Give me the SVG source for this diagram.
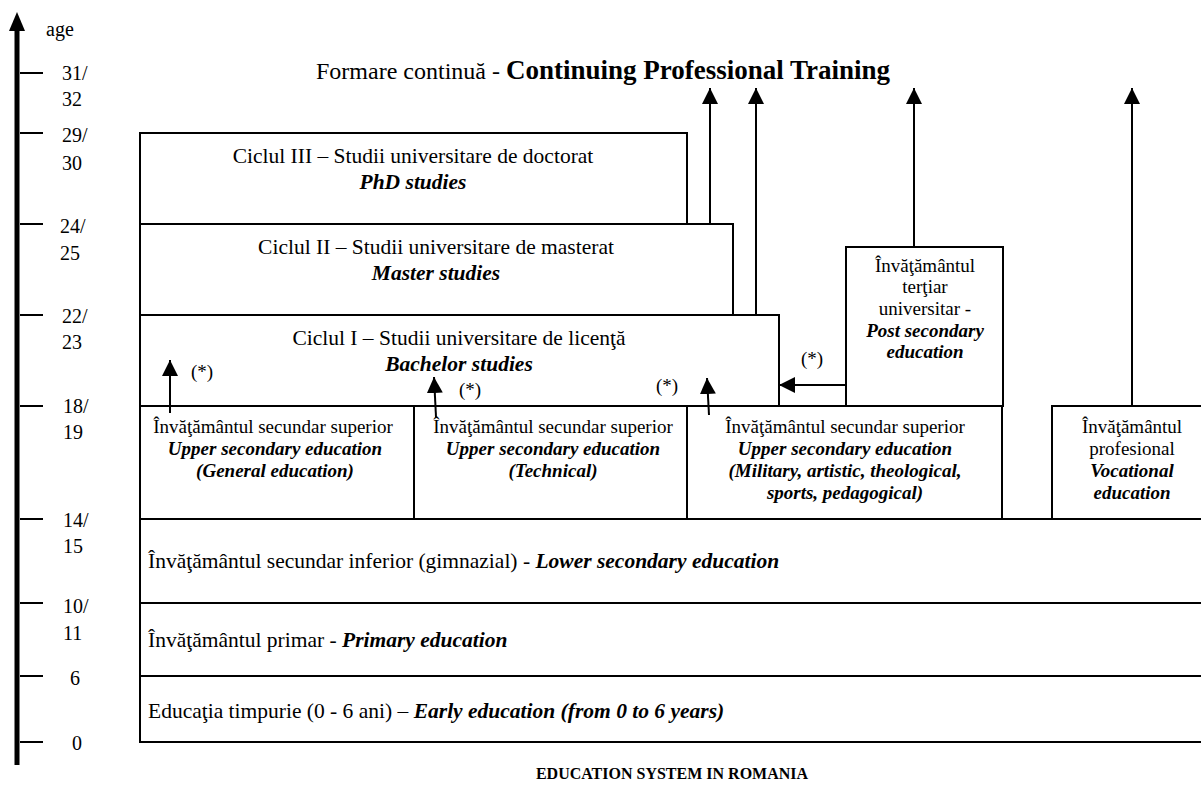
<svg xmlns="http://www.w3.org/2000/svg" width="1201" height="801" viewBox="0 0 1201 801">
<defs>
<marker id="ah" markerUnits="userSpaceOnUse" markerWidth="16" markerHeight="16" refX="16" refY="8" orient="auto" viewBox="0 0 16 16">
<path d="M0,0 L16,8 L0,16 z" fill="#000"/>
</marker>
<style>
text{font-family:"Liberation Serif","Times New Roman",serif;fill:#000}
.box{fill:#fff;stroke:#000;stroke-width:2}
.lbl{font-size:21.5px}
.sm{font-size:19px}
.bi{font-weight:bold;font-style:italic}
.b{font-weight:bold}
.mid{text-anchor:middle}
.ax{font-size:20px}
.conn line{stroke:#000;stroke-width:2;marker-end:url(#ah)}
.tick{stroke:#000;stroke-width:2}
.st{font-size:19px}
</style>
</defs>
<rect width="1201" height="801" fill="#fff"/>

<g id="axis">
<line x1="17" y1="765" x2="17" y2="26" stroke="#000" stroke-width="5"/>
<polygon points="17,12 9,31 25,31" fill="#000"/>
<text x="46" y="36" class="ax">age</text>
<line class="tick" x1="20" y1="73" x2="43" y2="73"/>
<line class="tick" x1="20" y1="133" x2="43" y2="133"/>
<line class="tick" x1="20" y1="224" x2="43" y2="224"/>
<line class="tick" x1="20" y1="315" x2="43" y2="315"/>
<line class="tick" x1="20" y1="406" x2="43" y2="406"/>
<line class="tick" x1="20" y1="519" x2="43" y2="519"/>
<line class="tick" x1="20" y1="603" x2="43" y2="603"/>
<line class="tick" x1="20" y1="676" x2="43" y2="676"/>
<line class="tick" x1="20" y1="742" x2="43" y2="742"/>
<text x="62" y="80" class="ax">31/</text><text x="62" y="106" class="ax">32</text>
<text x="62" y="142" class="ax">29/</text><text x="62" y="170" class="ax">30</text>
<text x="60" y="233" class="ax">24/</text><text x="60" y="260" class="ax">25</text>
<text x="62" y="323" class="ax">22/</text><text x="62" y="349" class="ax">23</text>
<text x="63" y="413" class="ax">18/</text><text x="63" y="439" class="ax">19</text>
<text x="63" y="527" class="ax">14/</text><text x="63" y="553" class="ax">15</text>
<text x="63" y="613" class="ax">10/</text><text x="63" y="640" class="ax">11</text>
<text x="70" y="685" class="ax">6</text>
<text x="72" y="750" class="ax">0</text>
</g>

<text x="316" y="79" style="font-size:24px">Formare continuă - <tspan class="b" style="font-size:27px">Continuing Professional Training</tspan></text>

<g id="phd">
<rect class="box" x="140" y="133" width="547" height="91"/>
<text x="413" y="163" class="lbl mid">Ciclul III – Studii universitare de doctorat</text>
<text x="413" y="189" class="lbl mid bi">PhD studies</text>
</g>
<g id="master">
<rect class="box" x="140" y="224" width="593" height="91"/>
<text x="436" y="254" class="lbl mid">Ciclul II – Studii universitare de masterat</text>
<text x="436" y="280" class="lbl mid bi">Master studies</text>
</g>
<g id="bachelor">
<rect class="box" x="140" y="315" width="639" height="91"/>
<text x="459" y="345" class="lbl mid">Ciclul I – Studii universitare de licenţă</text>
<text x="459" y="371" class="lbl mid bi">Bachelor studies</text>
</g>
<g id="tertiary">
<rect class="box" x="846" y="247" width="157" height="159"/>
<text x="925" y="272" class="sm mid">Învăţământul</text>
<text x="925" y="293" class="sm mid">terţiar</text>
<text x="925" y="315" class="sm mid">universitar -</text>
<text x="925" y="337" class="sm mid bi">Post secondary</text>
<text x="925" y="358" class="sm mid bi">education</text>
</g>
<g id="upper-general">
<rect class="box" x="140" y="406" width="274" height="113"/>
<text x="273" y="433" class="sm mid">Învăţământul secundar superior</text>
<text x="275" y="455" class="sm mid bi">Upper secondary education</text>
<text x="275" y="477" class="sm mid bi">(General education)</text>
</g>
<g id="upper-technical">
<rect class="box" x="414" y="406" width="273" height="113"/>
<text x="553" y="433" class="sm mid">Învăţământul secundar superior</text>
<text x="553" y="455" class="sm mid bi">Upper secondary education</text>
<text x="553" y="477" class="sm mid bi">(Technical)</text>
</g>
<g id="upper-special">
<rect class="box" x="687" y="406" width="315" height="113"/>
<text x="845" y="433" class="sm mid">Învăţământul secundar superior</text>
<text x="845" y="455" class="sm mid bi">Upper secondary education</text>
<text x="845" y="477" class="sm mid bi">(Military, artistic, theological,</text>
<text x="845" y="499" class="sm mid bi">sports, pedagogical)</text>
</g>
<g id="vocational">
<rect class="box" x="1052" y="406" width="170" height="113"/>
<text x="1132" y="433" class="sm mid">Învăţământul</text>
<text x="1132" y="455" class="sm mid">profesional</text>
<text x="1132" y="477" class="sm mid bi">Vocational</text>
<text x="1132" y="499" class="sm mid bi">education</text>
</g>
<g id="lower-secondary">
<rect class="box" x="140" y="519" width="1082" height="84"/>
<text x="148" y="568" class="lbl">Învăţământul secundar inferior (gimnazial) - <tspan class="bi">Lower secondary education</tspan></text>
</g>
<g id="primary">
<rect class="box" x="140" y="603" width="1082" height="73"/>
<text x="148" y="647" class="lbl">Învăţământul primar - <tspan class="bi">Primary education</tspan></text>
</g>
<g id="early">
<rect class="box" x="140" y="676" width="1082" height="66"/>
<text x="148" y="718" class="lbl">Educaţia timpurie (0 - 6 ani) – <tspan class="bi">Early education (from 0 to 6 years)</tspan></text>
</g>

<g id="connectors" class="conn">
<line x1="710" y1="224" x2="710" y2="88"/>
<line x1="756" y1="315" x2="756" y2="88"/>
<line x1="914" y1="247" x2="914" y2="88"/>
<line x1="1132" y1="406" x2="1132" y2="88"/>
<line x1="846" y1="385" x2="779" y2="385"/>
<line x1="170" y1="413" x2="170" y2="360"/>
<line x1="436" y1="417" x2="434" y2="377"/>
<line x1="709" y1="415" x2="707" y2="378"/>
</g>
<g id="notes">
<text x="191" y="378" class="st">(*)</text>
<text x="459" y="396" class="st">(*)</text>
<text x="656" y="392" class="st">(*)</text>
<text x="801" y="365" class="st">(*)</text>
</g>

<text x="672" y="779" class="mid b" style="font-size:16px">EDUCATION SYSTEM IN ROMANIA</text>
</svg>
